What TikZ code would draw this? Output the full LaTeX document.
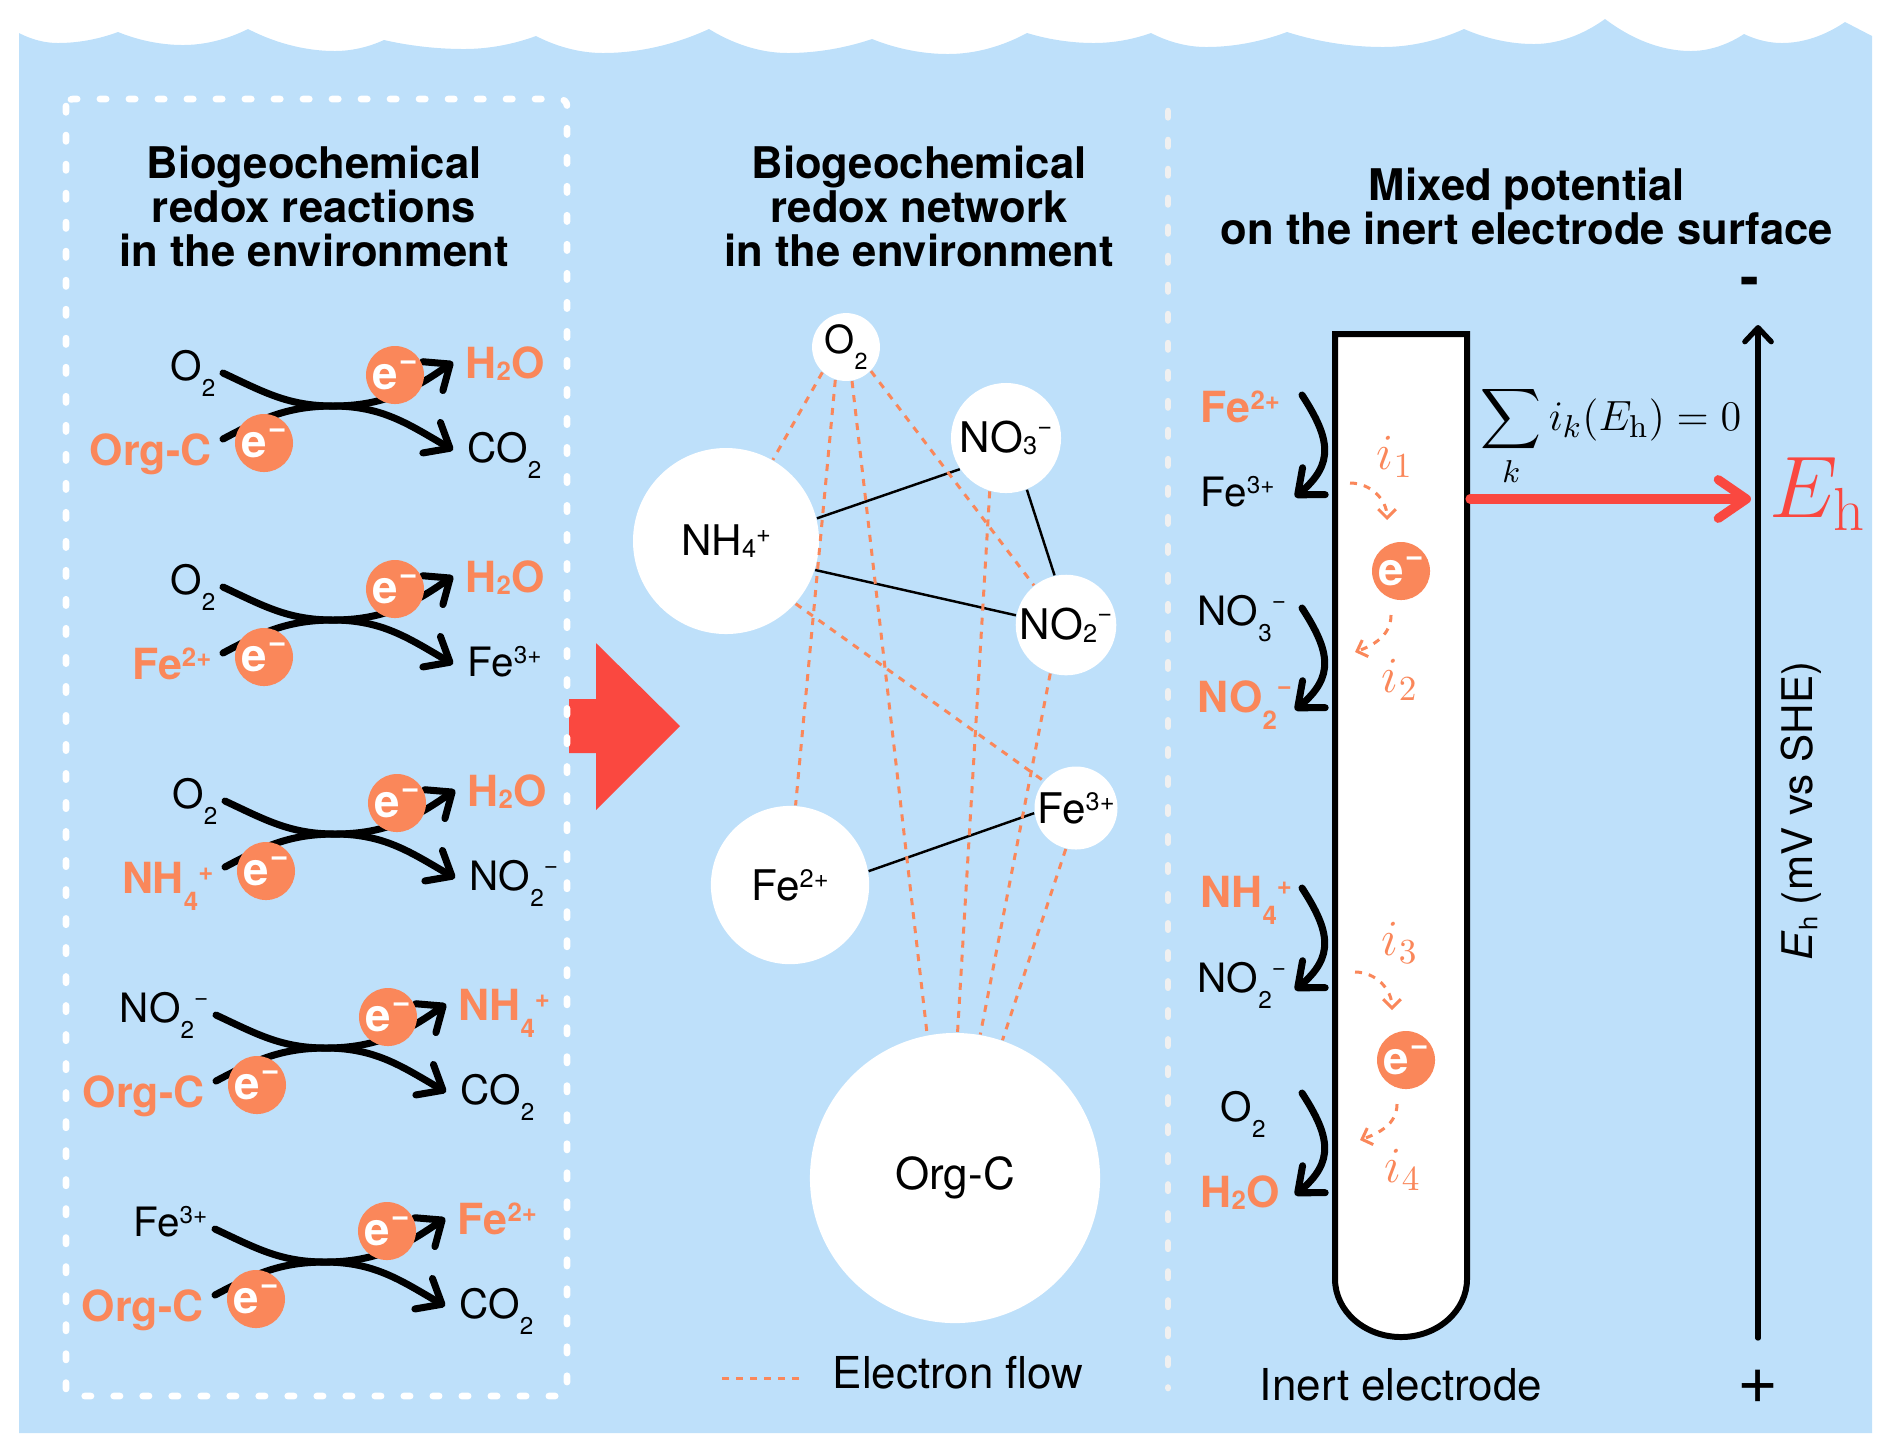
\documentclass[tikz,border=0pt]{standalone}
\usepackage[no-math]{fontspec}
\setmainfont{TeX Gyre Heros}
\usepackage{graphicx}
\usepackage{exscale}
\usetikzlibrary{arrows.meta,calc}

\definecolor{bgblue}{RGB}{190,224,250}
\definecolor{eorange}{RGB}{250,135,90}
\definecolor{ered}{RGB}{250,72,64}

\newcommand{\mns}{\char"2212\relax}
\newcommand{\lsub}[1]{\raisebox{-0.4em}{\scalebox{0.6}{#1}}}
\newcommand{\isub}[1]{\raisebox{-0.06em}{\scalebox{0.6}{#1}}}
\newcommand{\chg}[1]{\raisebox{0.3em}{\scalebox{0.6}{#1}}}
\newcommand{\chgm}{\raisebox{0.42em}{\scalebox{0.6}{\mns}}}
\newcommand{\elec}{e\kern0.3pt\raisebox{0.42em}{\scalebox{0.7}{\mns}}}

\begin{document}
\begin{tikzpicture}[x = 0.01cm, y = 0.01cm,
        title/.style = {align = center, font = \bfseries\fontsize{12.4}{12.5}\selectfont},
        lbl/.style = {inner sep = 0pt, font = \fontsize{11.5}{12}\selectfont},
        olbl/.style = {inner sep = 0pt, text = eorange, font = \bfseries\fontsize{12.2}{13}\selectfont},
        elec/.style = {circle, fill = eorange, text = white, minimum size = 16.5pt, inner sep = 0pt, font = \bfseries\fontsize{13}{13}\selectfont},
        rxn/.style = {line width = 2pt, line cap = round, -{Straight Barb[length = 6pt, width = 10pt, round]}},
        net/.style = {circle, fill = white, inner sep = 0pt, font = \fontsize{12}{12}\selectfont},
        link/.style = {line width = 0.7pt},
        eflow/.style = {eorange, line width = 0.85pt, dash pattern = on 2pt off 2pt},
        sep/.style = {line width = 1.9pt, line cap = round, dash pattern = on 1.8pt off 6.45pt},
        ilbl/.style = {text = eorange, font = \fontsize{14}{14}\selectfont},
        harrow/.style = {ered, line width = 2.6pt, line cap = round, -{Straight Barb[length = 8pt, width = 11pt, round]}},
        axis/.style = {line width = 1.5pt, line cap = round, -{Straight Barb[length = 4pt, width = 7.5pt, round]}}]

        \def\blockGap{214}

        \useasboundingbox (0, 0) rectangle (1892, -1453);

        % draw the water
        \fill[bgblue] (19, -33) parabola bend (58, -43) (118, -32)
            parabola bend (183, -45) (248, -29)
            parabola bend (335, -51) (384, -40)
            parabola bend (464, -49) (536, -36)
            parabola bend (603, -53) (709, -29)
            parabola bend (788, -53) (872, -39)
            parabola bend (948, -54) (1027, -33)
            parabola bend (1094, -43) (1151, -33)
            parabola bend (1206, -47) (1287, -32)
            parabola bend (1383, -47) (1464, -29)
            parabola bend (1534, -44) (1605, -19)
            parabola bend (1691, -51) (1744, -34)
            parabola bend (1782, -43) (1845, -22)
            -- (1872, -36) -- (1872, -1433) -- (19, -1433) -- cycle;

        % big red arrow between the panels
        \fill[ered] (569, -699) -- (596, -699) -- (596, -643) -- (680, -726) -- (596, -810) -- (596, -753) -- (569, -753) -- cycle;

        % draw panel borders
        \draw[sep, white, rounded corners = 2pt] (66, -99) rectangle (567, -1396);
        \draw[sep, white!94!black] (1168, -111) -- (1168, -1388);

        \node[title] (t1) at (314, -206) {Biogeochemical\\redox reactions\\in the environment};
        \node[title] (t2) at (919, -206) {Biogeochemical\\redox network\\in the environment};
        \node[title] (t3) at (1527, -206) {Mixed potential\\on the inert electrode surface};

        % reaction pairs in the left box
        \foreach \dx/\n/\tl/\bl/\tr/\br in {
            0/0/{O\lsub{2}}/{Org-C}/{H\isub{2}O}/{CO\lsub{2}},
            0/1/{O\lsub{2}}/{Fe\chg{2+}}/{H\isub{2}O}/{Fe\chg{3+}},
            2/2/{O\lsub{2}}/{NH\lsub{4}\chg{+}}/{H\isub{2}O}/{NO\lsub{2}\chgm},
            -7/3/{NO\lsub{2}\chgm}/{Org-C}/{NH\lsub{4}\chg{+}}/{CO\lsub{2}},
            -8/4/{Fe\chg{3+}}/{Org-C}/{Fe\chg{2+}}/{CO\lsub{2}}} {

            \begin{scope}[shift = {(\dx, {-\n*\blockGap})}]

                \coordinate (A) at (223, -373);
                \coordinate (C) at (223, -439);
                \coordinate (M) at (333, -406);
                \coordinate (B) at (453, -362);
                \coordinate (D) at (453, -450);

                % draw the two half reactions
                \draw[rxn] (A) to[out = -25, in = 180] (M) to[out = 0, in = 215] (B);
                \draw[rxn] (C) to[out = 28, in = 180] (M) to[out = 0, in = 150] (D);

                \node[elec] (e1) at ($(A) + (172, -2)$) {\elec};
                \node[elec] (e2) at ($(C) + (41, -4)$) {\elec};

                \node[lbl, anchor = base east] (tl) at ($(A) + (-7, -7)$) {\tl};
                \node[olbl, anchor = base east] (bl) at ($(C) + (-11, -26)$) {\bl};
                \node[olbl, anchor = base west] (tr) at ($(B) + (12, -16)$) {\tr};
                \node[lbl, anchor = base west] (br) at ($(D) + (14, -12)$) {\br};

            \end{scope}

        }

        % network nodes
        \node[net, minimum size = 19.3pt, font = \fontsize{11}{11}\selectfont] (nO2) at (846, -347) {O\lsub{2}};
        \node[net, minimum size = 31.3pt] (nNO3) at (1006, -438) {NO\isub{3}\chgm};
        \node[net, minimum size = 52.9pt] (nNH4) at (726, -541) {NH\isub{4}\chg{+}};
        \node[net, minimum size = 28.6pt] (nNO2) at (1066, -625) {NO\isub{2}\chgm};
        \node[net, minimum size = 23.6pt] (nFe3) at (1076, -808) {Fe\chg{3+}};
        \node[net, minimum size = 45pt] (nFe2) at (790, -885) {Fe\chg{2+}};
        \node[net, minimum size = 82.5pt, font = \fontsize{12.5}{12.5}\selectfont] (nOrgC) at (955, -1178) {Org-C};

        % draw redox couples
        \draw[link] (nNH4.14) -- (nNO3.214);
        \draw[link] (nNH4.-18) -- (nNO2.169);
        \draw[link] (nNO3.-68) -- (nNO2.103);
        \draw[link] (nFe2.10) -- (nFe3.187);

        % draw electron flow
        \foreach \a/\b in {nO2.227/nNH4.60, nO2.252/nFe2.86, nO2.280/nOrgC.101, nO2.-44/nNO2.129,
                nNO3.-107/nOrgC.89, nNO2.-108/nOrgC.80, nFe3.-104/nOrgC.71, nNH4.-42/nFe3.140} {
            \draw[eflow] (\a) -- (\b);
        }

        \coordinate (leg1) at (722, -1378);
        \coordinate (leg2) at (800, -1378);
        \draw[eflow] (leg1) -- (leg2);
        \node[anchor = base west, inner sep = 0pt, font = \fontsize{12.5}{12.5}\selectfont] (legTxt) at (832, -1388) {Electron flow};

        % draw the inert electrode
        \draw[line width = 1.7pt, fill = white] (1335, -334) -- (1335, -1279) arc[start angle = 180, end angle = 360, x radius = 66, y radius = 58] -- (1467, -334) -- cycle;

        \coordinate (elecR) at (1470, -499);
        \coordinate (axTop) at (1758, -325);
        \coordinate (axBot) at (1758, -1338);

        \draw[axis] (axBot) -- (axTop);
        \draw[harrow, shorten >= 2pt] (elecR) -- (elecR -| axTop);

        \node[font = \bfseries\fontsize{16}{16}\selectfont] (minusSign) at (1750, -287) {-};
        \node[font = \fontsize{20}{20}\selectfont] (plusSign) at (1758, -1387) {+};
        \node[rotate = 90, font = \fontsize{12}{12}\selectfont] (axLbl) at (1801, -811) {\textit{E}\raisebox{-0.12em}{\scalebox{0.6}{h}} (mV vs SHE)};
        \node[anchor = base west, inner sep = 0pt, text = ered, font = \fontsize{23}{23}\selectfont] (Eh) at (1769, -517) {$E_{\mathrm{h}}$};
        \node[anchor = base, font = \fontsize{13}{13}\selectfont] (sumEq) at (1611, -430) {$\displaystyle\sum_k i_k(E_{\mathrm{h}}) = 0$};

        % half reactions at the electrode
        \foreach \y in {395, 608, 888, 1093} {
            \coordinate (r1) at (1302, -\y);
            \coordinate (r2) at (1295, -\y - 102);
            \draw[rxn] (r1) to[out = -57, in = 40, looseness = 1.3] (r2);
        }

        \node[olbl, anchor = base west] (rFe2) at (1200, -422) {Fe\chg{2+}};
        \node[lbl, anchor = base west] (rFe3) at (1200, -506) {Fe\chg{3+}};
        \node[lbl, anchor = base west] (rNO3) at (1197, -625) {NO\lsub{3}\chgm};
        \node[olbl, anchor = base west] (rNO2) at (1197, -712) {NO\lsub{2}\chgm};
        \node[olbl, anchor = base west] (rNH4) at (1200, -907) {NH\lsub{4}\chg{+}};
        \node[lbl, anchor = base west] (rNO2b) at (1197, -992) {NO\lsub{2}\chgm};
        \node[lbl, anchor = base west] (rO2) at (1220, -1121) {O\lsub{2}};
        \node[olbl, anchor = base west] (rH2O) at (1200, -1207) {H\isub{2}O};

        % electrons and partial currents
        \foreach \xa/\ya/\xb/\yb/\o/\i in {1350/483/1387/520/0/90, 1391/615/1355/652/-90/20,
                1355/972/1392/1010/0/90, 1397/1104/1360/1140/-90/20} {
            \coordinate (d1) at (\xa, -\ya);
            \coordinate (d2) at (\xb, -\yb);
            \draw[eflow, -{Straight Barb[length = 2.5pt, width = 5pt]}] (d1) to[out = \o, in = \i] (d2);
        }

        \node[elec] (eA) at (1401, -571) {\elec};
        \node[elec] (eB) at (1406, -1060) {\elec};

        \node[ilbl] (i1) at (1395, -457) {$i_1$};
        \node[ilbl] (i2) at (1400, -680) {$i_2$};
        \node[ilbl] (i3) at (1400, -943) {$i_3$};
        \node[ilbl] (i4) at (1403, -1170) {$i_4$};

        \node[anchor = base, font = \fontsize{12.5}{12.5}\selectfont] (elLbl) at (1401, -1400) {Inert electrode};

    \end{tikzpicture}
\end{document}
